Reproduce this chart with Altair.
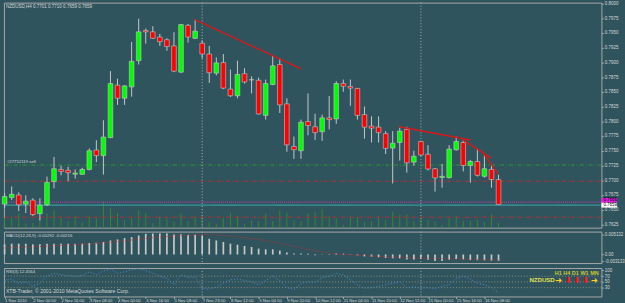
import altair as alt
import pandas as pd

# ---------------- data ----------------
open_ = [0.76595, 0.76707, 0.76750, 0.76595, 0.76662, 0.76433, 0.76583, 0.76978, 0.77183, 0.77167,
         0.77103, 0.77100, 0.77183, 0.77512, 0.77417, 0.77723, 0.78612, 0.78390, 0.78583, 0.79028,
         0.79540, 0.79517, 0.79428, 0.79383, 0.79278, 0.78833, 0.79628, 0.79407, 0.79323, 0.79140,
         0.78817, 0.78995, 0.78545, 0.78433, 0.78807, 0.78703, 0.78695, 0.78100, 0.78623, 0.78962,
         0.78295, 0.77573, 0.77500, 0.77995, 0.77907, 0.77823, 0.78057, 0.78040, 0.78640, 0.78590,
         0.78557, 0.78112, 0.77917, 0.77900, 0.77790, 0.77545, 0.77640, 0.77862, 0.77307, 0.77657,
         0.77440, 0.77195, 0.77048, 0.77045, 0.77517, 0.77640, 0.77250, 0.77317, 0.77067, 0.77183,
         0.77010]
high = [0.76778, 0.76895, 0.76795, 0.76745, 0.76695, 0.76695, 0.77062, 0.77395, 0.77245, 0.77228,
        0.77183, 0.77212, 0.77540, 0.77678, 0.78017, 0.78850, 0.78723, 0.78612, 0.79345, 0.79740,
        0.79573, 0.79612, 0.79483, 0.79407, 0.79512, 0.79650, 0.79650, 0.79723, 0.79373, 0.79278,
        0.79083, 0.79140, 0.78878, 0.79028, 0.78900, 0.78762, 0.78740, 0.78707, 0.79112, 0.79073,
        0.78390, 0.77740, 0.78028, 0.78473, 0.78128, 0.78112, 0.78428, 0.78678, 0.78707, 0.78707,
        0.78562, 0.78250, 0.78083, 0.78083, 0.77833, 0.77833, 0.77890, 0.77907, 0.77500, 0.77667,
        0.77595, 0.77207, 0.77278, 0.77595, 0.77740, 0.77683, 0.77345, 0.77540, 0.77445, 0.77278,
        0.77100]
low = [0.76528, 0.76662, 0.76478, 0.76445, 0.76395, 0.76317, 0.76562, 0.76862, 0.77083, 0.76983,
       0.77028, 0.77095, 0.77167, 0.77307, 0.77095, 0.77712, 0.78278, 0.78278, 0.78417, 0.78962,
       0.79317, 0.79395, 0.79278, 0.79195, 0.78833, 0.78817, 0.79333, 0.79395, 0.79062, 0.78650,
       0.78778, 0.78545, 0.78412, 0.78390, 0.78640, 0.78473, 0.78112, 0.78028, 0.78612, 0.78140,
       0.77483, 0.77362, 0.77362, 0.77762, 0.77683, 0.77667, 0.77862, 0.77957, 0.78500, 0.78262,
       0.78028, 0.77707, 0.77640, 0.77640, 0.77445, 0.76945, 0.77333, 0.77128, 0.77250, 0.77412,
       0.77167, 0.76807, 0.76873, 0.77028, 0.77500, 0.77150, 0.76957, 0.77062, 0.77045, 0.76873,
       0.76590]
close = [0.76723, 0.76762, 0.76583, 0.76645, 0.76417, 0.76578, 0.76962, 0.77195, 0.77150, 0.77128,
         0.77120, 0.77183, 0.77500, 0.77417, 0.77733, 0.78640, 0.78390, 0.78600, 0.79017, 0.79517,
         0.79517, 0.79407, 0.79350, 0.79267, 0.78850, 0.79640, 0.79428, 0.79528, 0.79140, 0.78823,
         0.78990, 0.78562, 0.78433, 0.78795, 0.78667, 0.78703, 0.78123, 0.78640, 0.78940, 0.78278,
         0.77600, 0.77517, 0.77983, 0.77928, 0.77807, 0.78057, 0.78028, 0.78640, 0.78595, 0.78562,
         0.78100, 0.77900, 0.77883, 0.77807, 0.77540, 0.77628, 0.77833, 0.77295, 0.77407, 0.77428,
         0.77190, 0.77040, 0.77065, 0.77528, 0.77657, 0.77250, 0.77317, 0.77083, 0.77195, 0.77012,
         0.76590]
volume = [1000, 970, 1470, 470, 470, 970, 1470, 1800, 970, 640,
          1140, 570, 1140, 970, 2640, 1970, 1470, 800, 970, 1800,
          1470, 470, 1140, 900, 640, 1470, 640, 1140, 1300, 570,
          370, 970, 1540, 1240, 370, 700, 640, 1400, 700, 1740,
          1540, 800, 640, 1470, 1640, 1900, 1140, 970, 300, 1140,
          1070, 570, 640, 1140, 800, 1640, 1300, 1370, 640, 900,
          800, 640, 300, 970, 1240, 700, 700, 800, 570, 1370, 470]
macd = [0.00266, 0.00283, 0.00283, 0.00283, 0.00266, 0.00266, 0.00283, 0.00283, 0.00283, 0.00283,
        0.00283, 0.00283, 0.00300, 0.00308, 0.00326, 0.00368, 0.00394, 0.00428, 0.00454, 0.00497,
        0.00540, 0.00548, 0.00548, 0.00548, 0.00523, 0.00531, 0.00514, 0.00514, 0.00497, 0.00411,
        0.00368, 0.00326, 0.00283, 0.00257, 0.00223, 0.00197, 0.00154, 0.00137, 0.00137, 0.00103,
        0.00051, 0.00026, 0.00026, 0.00017, -0.0002, 0.0001, -0.0001, 0.0003, 0.0002, 0.0001,
        -0.0002, -0.0005, -0.0006, -0.0007, -0.0009, -0.0010, -0.0010, -0.0013, -0.0013, -0.0012,
        -0.0014, -0.0017, -0.0017, -0.0014, -0.0012, -0.0013, -0.0014, -0.0015, -0.0015, -0.0016,
        -0.0017]
signal = [0.0017, 0.0018, 0.0019, 0.0020, 0.0020, 0.0021, 0.0022, 0.0023, 0.0024, 0.0025,
          0.0026, 0.0027, 0.0028, 0.0029, 0.0031, 0.0032, 0.0034, 0.0036, 0.0038, 0.0040,
          0.0042, 0.0044, 0.0045, 0.0047, 0.0048, 0.0049, 0.0050, 0.0051, 0.0052, 0.0052,
          0.0051, 0.0050, 0.0048, 0.0046, 0.0044, 0.0041, 0.0039, 0.0036, 0.0033, 0.0029,
          0.0025, 0.0021, 0.0017, 0.0013, 0.0010, 0.0007, 0.0004, 0.0002, 0.0000, -0.0001,
          -0.0002, -0.0003, -0.0004, -0.0005, -0.0006, -0.0007, -0.0008, -0.0008, -0.0009, -0.0009,
          -0.0010, -0.0010, -0.0011, -0.0011, -0.0012, -0.0012, -0.0013, -0.0013, -0.0014, -0.0014,
          -0.0015]
rsi = [55, 60, 45, 50, 35, 45, 70, 80, 75, 72,
       70, 72, 85, 75, 88, 95, 80, 85, 92, 95,
       90, 80, 70, 62, 40, 75, 65, 68, 28, 25,
       32, 45, 57, 60, 55, 50, 40, 55, 70, 55,
       30, 23, 45, 50, 48, 65, 70, 80, 75, 57,
       40, 28, 30, 35, 40, 45, 50, 30, 33, 28,
       30, 25, 35, 40, 62, 70, 60, 45, 40, 30, 12.46]

time_labels = ["1 Nov 2010", "2 Nov 00:00", "2 Nov 16:00", "3 Nov 08:00", "4 Nov 00:00",
               "4 Nov 16:00", "5 Nov 08:00", "7 Nov 23:00", "8 Nov 12:00", "9 Nov 04:00",
               "9 Nov 20:00", "10 Nov 12:00", "11 Nov 04:00", "11 Nov 20:00", "12 Nov 12:00",
               "15 Nov 00:00", "15 Nov 16:00", "16 Nov 08:00"]
time_label_idx = [4 * k for k in range(len(time_labels))]
price_ticks = [0.7625 + 0.0025 * k for k in range(16)]
separators = [28, 59]

order_level = [0.77257]
stop_levels = [0.76983, 0.76373]
ask_level = [0.76628]
bid_level = [0.76578]
box_prices = [0.76657, 0.76578]
box_texts = ["0.7666", "0.7659"]

trend_x1 = [26.96, 55.93, 64.94, 67.91]
trend_y1 = [0.79723, 0.77907, 0.77683, 0.77445]
trend_x2 = [42.0, 66.02, 68.94, 70.0]
trend_y2 = [0.78890, 0.77683, 0.77378, 0.77095]

rsi_levels = [70, 50, 30]

# ---------------- style ----------------
BG = "#2F545E"
FONT = "Liberation Sans"
TXT = "#D8D8D8"
GRID = "#A8A8A8"
W = 608

n = len(open_)
df = pd.DataFrame({"i": list(range(n)), "open": open_, "high": high, "low": low,
                   "close": close, "vol": volume, "macd": macd, "signal": signal, "rsi": rsi})

xs = alt.Scale(domain=[-0.0975, 84.58], nice=False, zero=False)
ps = alt.Scale(domain=[0.76195, 0.800117], nice=False, zero=False)
X0 = alt.X("i:Q", scale=xs, axis=None)


def ptxt(text, x, y, size, color=TXT, align="left", weight="normal", font=FONT):
    return alt.Chart(pd.DataFrame({"t": [text]})).mark_text(
        align=align, baseline="middle", fontSize=size, color=color, font=font, fontWeight=weight
    ).encode(x=alt.value(x), y=alt.value(y), text="t:N")


def hline(levels, color, dash, width=1):
    return alt.Chart(pd.DataFrame({"p": levels})).mark_rule(
        color=color, strokeDash=dash, strokeWidth=width
    ).encode(y=alt.Y("p:Q", scale=ps, axis=None))


def seps(xaxis=None):
    return alt.Chart(pd.DataFrame({"i": separators})).mark_rule(
        color="#B0B0B0", strokeDash=[1, 2], strokeWidth=1
    ).encode(x=alt.X("i:Q", scale=xs, axis=xaxis))


# ---------------- main panel ----------------
vol = alt.Chart(df).transform_calculate(z="0").mark_rule(color="#2E8B2E", strokeWidth=1).encode(
    x=X0, y=alt.Y("z:Q", scale=alt.Scale(domain=[0, 22900], nice=False), axis=None), y2="vol:Q")

wicks = alt.Chart(df).mark_rule(color="#C8C8C8", strokeWidth=1).encode(
    x=X0, y=alt.Y("low:Q", scale=ps, axis=None), y2="high:Q")

bodies = alt.Chart(df).transform_calculate(
    xl="datum.i - 0.33", xr="datum.i + 0.33",
    col="datum.open < datum.close ? '#00FF00' : (datum.open > datum.close ? '#FF0000' : '#C8C8C8')"
).mark_rect(stroke="#C8C8C8", strokeWidth=0.6).encode(
    x=alt.X("xl:Q", scale=xs, axis=None), x2="xr:Q",
    y=alt.Y("open:Q", scale=ps,
            axis=alt.Axis(orient="right", values=price_ticks, format=".4f", title=None)),
    y2="close:Q", color=alt.Color("col:N", scale=None))

trend_df = pd.DataFrame({"x1": trend_x1, "y1": trend_y1, "x2": trend_x2, "y2": trend_y2})
trends = alt.Chart(trend_df).mark_rule(color="#D81818", strokeWidth=1.4).encode(
    x=alt.X("x1:Q", scale=xs, axis=None), x2="x2:Q",
    y=alt.Y("y1:Q", scale=ps, axis=None), y2="y2:Q")

box_df = pd.DataFrame({"p": box_prices, "t": box_texts, "c": ["#E020E0", "#FFFFFF"]})
boxes = alt.Chart(box_df).mark_rule(strokeWidth=5).encode(
    x=alt.value(W), x2=alt.value(W + 16), y=alt.Y("p:Q", scale=ps, axis=None),
    color=alt.Color("c:N", scale=None))
box_txt = alt.Chart(box_df).mark_text(align="left", baseline="middle", fontSize=4.5,
                                      font=FONT, color="#000000").encode(
    x=alt.value(W + 2), y=alt.Y("p:Q", scale=ps, axis=None), text="t:N")

main = alt.layer(
    vol,
    hline(order_level, "#2E9A2E", [4, 2, 1, 2]),
    hline(stop_levels, "#B83030", [4, 2, 1, 2]),
    hline(ask_level, "#B040B0", [1, 1], 1.2),
    hline(bid_level, "#3CB8B8", [1, 0], 1),
    seps(),
    wicks, bodies, trends,
    ptxt("NZDUSD,H4  0.7701 0.7710 0.7659 0.7659", 2, 4, 4.6),
    ptxt("#27752119 sell", 3, 162.3, 4.4),
    boxes, box_txt,
).resolve_scale(y="independent").properties(width=W, height=229)

# ---------------- MACD panel ----------------
ms = alt.Scale(domain=[-0.002236, 0.005988], nice=False, zero=False)
macd_axis = alt.Axis(orient="right", values=[0.005132, 0.0, -0.00172], title=None,
                     labelExpr="datum.value > 0.001 ? '0.005132' : (datum.value < -0.001 ? '-0.003133' : '0.00')")
macd_bars = alt.Chart(df).transform_calculate(
    xl="datum.i - 0.12", xr="datum.i + 0.12", z="0"
).mark_rect(color="#C8C8C8").encode(
    x=alt.X("xl:Q", scale=xs, axis=None), x2="xr:Q",
    y=alt.Y("macd:Q", scale=ms, axis=macd_axis), y2="z:Q")
macd_sig = alt.Chart(df).mark_line(color="#D02828", strokeDash=[1, 2], strokeWidth=1).encode(
    x=X0, y=alt.Y("signal:Q", scale=ms, axis=macd_axis))
macd_panel = alt.layer(
    seps(), macd_bars, macd_sig,
    ptxt("MACD(12,26,9) -0.00292 -0.00216", 2, 4, 4.4),
).properties(width=W, height=32)

# ---------------- RSI panel ----------------
rs = alt.Scale(domain=[-0.7, 98.3], nice=False, zero=False)
rsi_axis = alt.Axis(orient="right", values=[91, 70, 50, 30], title=None,
                    labelExpr="datum.value > 90 ? '100' : datum.value")
lbl_js = "[" + ",".join("'" + t + "'" for t in time_labels) + "]"
x_axis = alt.Axis(orient="bottom", values=time_label_idx, title=None, labelAlign="left",
                  labelExpr=lbl_js + "[round(datum.value / 4)]", labelFontSize=4.3,
                  tickSize=2, labelPadding=0, labelOverlap=False, labelFlush=False)
Xr = alt.X("i:Q", scale=xs, axis=x_axis)
rsi_lv = alt.Chart(pd.DataFrame({"v": rsi_levels})).mark_rule(
    color="#8E8E7A", strokeDash=[1, 2], strokeWidth=1
).encode(y=alt.Y("v:Q", scale=rs, axis=rsi_axis))
rsi_line = alt.Chart(df).mark_line(color="#4A8FD0", strokeDash=[1, 2], strokeWidth=1).encode(
    x=Xr, y=alt.Y("rsi:Q", scale=rs, axis=rsi_axis))

arrow_x = [564.7, 574.7, 583.3, 592.3, 601.0]
arrow_t = ["➜", "⬇", "⬇", "⬇", "➜"]
arrow_c = ["#FFD21F", "#FF1A1A", "#FF1A1A", "#FF1A1A", "#FFD21F"]
arrows = [ptxt(t, x, 12.3, 8.5, color=c, align="center", weight="bold", font="DejaVu Sans")
          for t, x, c in zip(arrow_t, arrow_x, arrow_c)]

rsi_panel = alt.layer(
    rsi_lv, seps(x_axis), rsi_line,
    ptxt("RSI(3) 12.4564", 2, 4, 4.4),
    ptxt("XTB-Trader, © 2001-2010 MetaQuotes Software Corp.", 2, 23.5, 5.2),
    ptxt("H1 H4 D1 W1 MN", 560.5, 5.2, 5.6, color="#C8C832", weight="bold"),
    ptxt("NZDUSD", 560.5, 12.3, 6.2, color="#E0E050", align="right", weight="bold"),
    *arrows,
).properties(width=W, height=29)

chart = alt.vconcat(main, macd_panel, rsi_panel, spacing=2).properties(
    padding={"left": 1, "top": -3, "right": 0, "bottom": 0},
    background=BG,
).configure_view(
    stroke=GRID, strokeWidth=1, fill=BG
).configure_axis(
    labelFont=FONT, labelFontSize=4.5, labelColor=TXT, tickColor=GRID, tickSize=2,
    domain=False, grid=False, labelPadding=1
)

chart.save("out.html", embed_options={"renderer": "svg", "actions": False})
